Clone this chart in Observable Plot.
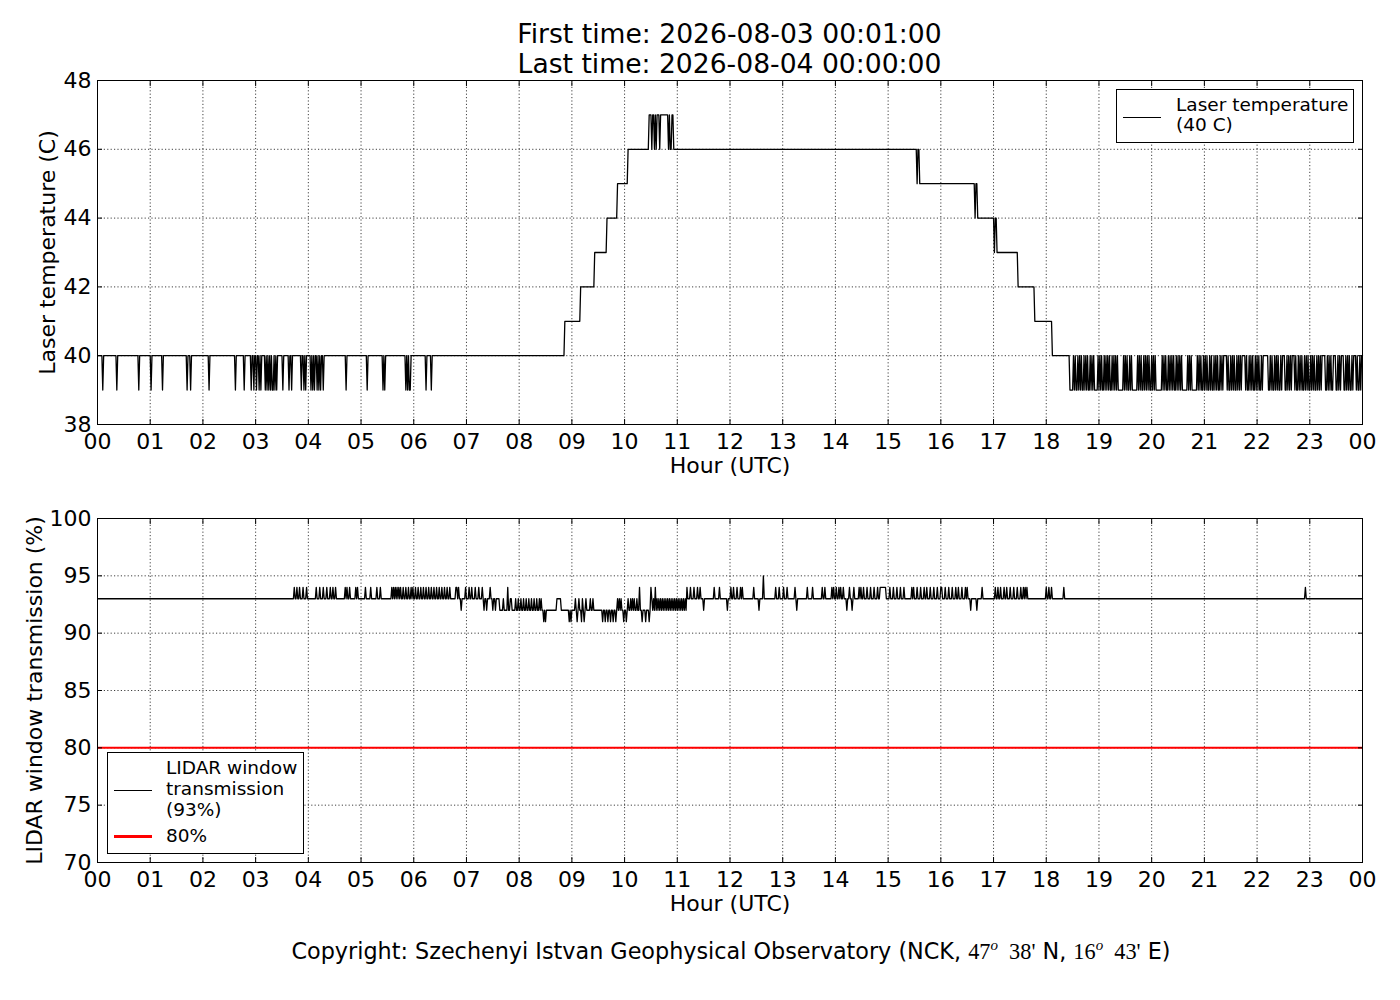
<!DOCTYPE html>
<html><head><meta charset="utf-8">
<script src="https://cdn.jsdelivr.net/npm/d3@7"></script>
<script src="https://cdn.jsdelivr.net/npm/@observablehq/plot@0.6"></script>
<style>
body{margin:0;background:#fff;}
#fig{position:relative;width:1400px;height:1000px;font-family:"DejaVu Sans",sans-serif;color:#000;background:#fff;overflow:hidden;}
.abs{position:absolute;}
#title{left:97px;width:1265px;top:19px;text-align:center;font-size:26.6px;line-height:30px;white-space:nowrap;z-index:2;}
#copy{left:0;width:1462px;top:938px;text-align:center;font-size:22.3px;line-height:26px;white-space:nowrap;z-index:2;}
#copy .m{font-family:"Liberation Serif","DejaVu Serif",serif;}
#copy sup{font-style:italic;font-size:15px;vertical-align:9px;line-height:0;}
.legend{border:1px solid #000;background:#fff;z-index:2;}
.ltext{font-size:18.5px;white-space:nowrap;z-index:3;}
.lline{z-index:3;}
</style></head>
<body><div id="fig">
<div id="title" class="abs">First time: 2026-08-03 00:01:00<br>Last time: 2026-08-04 00:00:00</div>
<div id="chart1" class="abs" style="left:0;top:0;"></div>
<div id="chart2" class="abs" style="left:0;top:480px;"></div>
<div class="abs legend" style="left:1116px;top:89px;width:236px;height:52px;"></div>
<div class="abs lline" style="left:1123px;top:116.5px;width:38px;height:1.4px;background:#000;"></div>
<div class="abs ltext" style="left:1176px;top:94.5px;line-height:20px;">Laser temperature<br>(40 C)</div>
<div class="abs legend" style="left:106.5px;top:752px;width:195px;height:100px;"></div>
<div class="abs lline" style="left:114px;top:790px;width:38px;height:1.4px;background:#000;"></div>
<div class="abs lline" style="left:114px;top:834.5px;width:38px;height:3px;background:#ff0000;"></div>
<div class="abs ltext" style="left:166px;top:756.5px;line-height:21px;">LIDAR window<br>transmission<br>(93%)</div>
<div class="abs ltext" style="left:166px;top:825px;line-height:21px;">80%</div>
<div id="copy" class="abs">Copyright: Szechenyi Istvan Geophysical Observatory (NCK, <span class="m">47<sup>o</sup>&nbsp;&nbsp;38'</span> N, <span class="m">16<sup>o</sup>&nbsp;&nbsp;43'</span> E)</div>
</div>
<script>
// ---- tick values and labels ----
const hourTicks = [0,1,2,3,4,5,6,7,8,9,10,11,12,13,14,15,16,17,18,19,20,21,22,23,24];
const hourLabels = ["00","01","02","03","04","05","06","07","08","09","10","11","12","13","14","15","16","17","18","19","20","21","22","23","00"];
const tempTicks = [38,40,42,44,46,48];
const transTicks = [70,75,80,85,90,95,100];

// ---- laser temperature (minutes after 00:00, value in C) ----
const tempSteps = [[0,40],[532,41],[550,42],[566,43],[580,44],[592,45],[604,46],[628,47],[656,46],[936,45],[1002,44],[1024,43],[1048,42],[1067,41],[1087,40]];
const tempDips39 = [6,22,47,61,74,102,106,127,157,167,175,178,181,184,186,191,193,195,197,199,200,202,204,211,218,221,232,235,237,243,245,247,250,252,254,257,283,307,325,327,351,353,355,356,374,380];
const tempDips46 = [631,634,636,640,650,652,653];
const tempJitter = [[933,45],[934,46],[999,44],[1000,45],[1021,43],[1022,44]];
const tempLowSpans = [[1107,1110],[1112,1112],[1114,1115],[1117,1117],[1119,1119],[1121,1122],[1124,1124],[1126,1126],[1128,1129],[1131,1131],[1133,1133],[1135,1138],[1140,1140],[1142,1142],[1144,1145],[1147,1147],[1149,1149],[1151,1151],[1153,1154],[1156,1156],[1158,1158],[1160,1160],[1162,1167],[1169,1169],[1171,1171],[1173,1174],[1176,1176],[1178,1183],[1185,1185],[1187,1187],[1189,1190],[1192,1192],[1194,1194],[1196,1196],[1198,1199],[1201,1201],[1203,1203],[1205,1211],[1213,1213],[1215,1215],[1217,1218],[1220,1220],[1222,1222],[1224,1224],[1226,1227],[1229,1229],[1231,1231],[1233,1233],[1235,1240],[1242,1242],[1244,1244],[1246,1251],[1253,1253],[1255,1255],[1257,1258],[1260,1260],[1262,1262],[1264,1265],[1267,1267],[1269,1270],[1272,1272],[1274,1274],[1276,1277],[1279,1279],[1281,1281],
  [1286,1286],[1288,1289],[1291,1291],[1293,1293],[1295,1296],[1298,1298],[1300,1300],[1302,1302],
  [1307,1307],[1309,1310],[1312,1312],[1314,1314],[1316,1317],[1319,1319],[1321,1321],[1323,1324],[1326,1326],
  [1333,1334],[1336,1336],[1338,1339],[1341,1341],[1343,1343],[1345,1346],[1348,1348],
  [1352,1353],[1355,1355],[1357,1357],[1359,1359],
  [1363,1363],[1365,1366],[1368,1368],[1370,1370],[1372,1373],[1375,1375],[1377,1377],[1379,1380],[1382,1382],[1384,1384],[1386,1387],[1389,1389],[1391,1391],[1393,1393],
  [1398,1399],[1401,1401],[1403,1403],[1405,1406],
  [1410,1411],[1413,1413],[1415,1415],
  [1419,1420],[1422,1422],[1424,1424],[1426,1427],[1429,1429],
  [1433,1433],[1435,1436],[1438,1438]];

// ---- LIDAR window transmission (minutes after 00:00, value in %) ----
const transSteps = [[0,93],[458,92],[671,93]];
const trans94 = [224,227,230,234,238,249,253,257,261,265,268,271,282,284,287,294,296,305,311,318,322,335,337,339,341,343,345,348,351,354,357,359,362,365,368,371,374,377,380,383,386,389,392,395,398,401,408,409,411,419,423,426,430,434,438,447,467,617,630,635,671,675,679,683,686,702,708,721,724,728,732,734,747,772,776,781,785,794,808,814,825,828,836,838,841,844,846,849,856,861,867,869,872,876,880,884,888,891,892,893,894,895,896,897,902,906,910,914,918,927,929,933,937,941,944,948,952,956,960,961,965,969,973,977,980,984,988,990,1007,1022,1025,1028,1032,1035,1039,1043,1047,1051,1054,1056,1058,1080,1083,1086,1100,1375];
const trans95 = [758];
const trans93 = [462,470,471,476,479,482,485,488,491,494,497,500,503,505,523,524,525,526,527,544,548,552,556,561,564,592,594,596,604,607,609,611,614,631,633,637,639,641,643,645,647,649,651,653,655,657,659,661,663,665,667,669];
const trans92 = [414,440,443,450,453,690,717,753,796,853,859,994,1001];
const trans91 = [508,510,537,539,546,551,554,575,578,581,584,587,590,599,602,620,624,628];
const transLimit = [80];

function series(steps, overrides) {
  const out = [];
  let k = 0;
  for (let m = 1; m <= 1440; m++) {
    while (k + 1 < steps.length && steps[k + 1][0] <= m) k++;
    out.push({h: m / 60, v: steps[k][1]});
  }
  for (const [m, v] of overrides) if (m >= 1 && m <= 1440) out[m - 1].v = v;
  return out;
}

const tempOverrides = [
  ...tempDips39.map(m => [m, 39]),
  ...tempDips46.map(m => [m, 46]),
  ...tempJitter,
  ...tempLowSpans.flatMap(([a, b]) => d3.range(a, b + 1).map(m => [m, 39]))
];
const tempData = series(tempSteps, tempOverrides);

const transOverrides = [
  ...trans94.map(m => [m, 94]),
  ...trans95.map(m => [m, 95]),
  ...trans93.map(m => [m, 93]),
  ...trans92.map(m => [m, 92]),
  ...trans91.map(m => [m, 91])
];
const transData = series(transSteps, transOverrides);

const hourFmt = d => hourLabels[hourTicks.indexOf(d)];
const gridStyle = {stroke: "black", strokeOpacity: 0.75, strokeWidth: 1, strokeDasharray: "1.2,2.2"};

function panel({data, yDomain, yTicks, yLabel, height, marginTop, marginBottom, yLabelDx, extra}) {
  return Plot.plot({
    width: 1400, height, marginTop, marginBottom, marginLeft: 97, marginRight: 38,
    x: {domain: [0, 24], label: null},
    y: {domain: yDomain, label: null},
    style: {fontFamily: "DejaVu Sans", fontSize: "22px", color: "black", background: "transparent"},
    marks: [
      Plot.gridX(hourTicks, gridStyle),
      Plot.gridY(yTicks, gridStyle),
      ...(extra || []),
      Plot.line(data, {x: "h", y: "v", stroke: "black", strokeWidth: 1.3}),
      Plot.frame({stroke: "black", strokeWidth: 1}),
      Plot.axisX(hourTicks, {anchor: "bottom", tickSize: -5, tickPadding: 14, tickFormat: hourFmt, label: null, fontSize: 22}),
      Plot.axisX(hourTicks, {anchor: "top", tickSize: -5, tickFormat: () => "", label: null}),
      Plot.axisY(yTicks, {anchor: "left", tickSize: -5, tickPadding: 11, tickFormat: d => String(d), label: null, fontSize: 22}),
      Plot.axisY(yTicks, {anchor: "right", tickSize: -5, tickFormat: () => "", label: null}),
      Plot.text(["Hour (UTC)"], {text: d => d, frameAnchor: "bottom", dy: 41, lineAnchor: "middle", fontSize: 22}),
      Plot.text([yLabel], {text: d => d, frameAnchor: "left", dx: yLabelDx, rotate: -90, textAnchor: "middle", lineAnchor: "middle", fontSize: 22})
    ]
  });
}

document.getElementById("chart1").append(panel({
  data: tempData, yDomain: [38, 48], yTicks: tempTicks, yLabel: "Laser temperature (C)",
  height: 480, marginTop: 80, marginBottom: 56, yLabelDx: -50
}));
document.getElementById("chart2").append(panel({
  data: transData, yDomain: [70, 100], yTicks: transTicks, yLabel: "LIDAR window transmission (%)",
  height: 440, marginTop: 38, marginBottom: 58, yLabelDx: -63,
  extra: [Plot.ruleY(transLimit, {stroke: "#ff0000", strokeWidth: 2})]
}));
</script>
</body></html>
